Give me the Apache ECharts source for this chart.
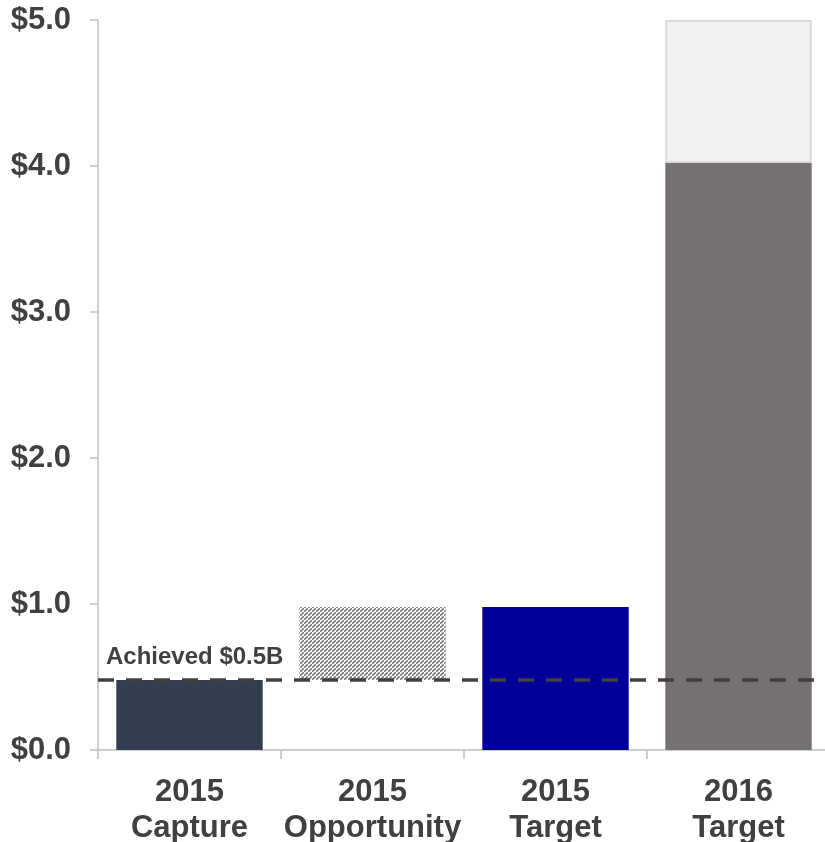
<!DOCTYPE html>
<html>
<head>
<meta charset="utf-8">
<script src="https://cdn.jsdelivr.net/npm/echarts@6/dist/echarts.min.js"></script>
<style>
  html, body { margin: 0; padding: 0; background: #fff; }
  #myChart { width: 825px; height: 842px; }
</style>
</head>
<body>
<div id="myChart"></div>
<script>
// 数据
var categories = ['2015\nCapture', '2015\nOpportunity', '2015\nTarget', '2016\nTarget']
var baseValues = [0.48, 0.48, 0.98, 4.02]   // 底部柱子（机会柱的底部透明）
var topValues = ['-', 0.50, '-', 0.98]      // 叠加部分
var achieved = 0.48
var achievedLabel = 'Achieved $0.5B'
var yTicks = [0, 1, 2, 3, 4, 5]

// 斜线填充
function hatch() {
  var s = 4
  var c = document.createElement('canvas')
  c.width = s
  c.height = s
  var ctx = c.getContext('2d')
  ctx.fillStyle = '#ffffff'
  ctx.fillRect(0, 0, s, s)
  ctx.strokeStyle = '#7a7a7a'
  ctx.lineWidth = 1.6
  ctx.beginPath()
  ctx.moveTo(-1, s + 1); ctx.lineTo(s + 1, -1)
  ctx.moveTo(-1 - s, 1); ctx.lineTo(1, -1 - s)
  ctx.moveTo(s - 1, 2 * s + 1); ctx.lineTo(2 * s + 1, s - 1)
  ctx.stroke()
  return c
}

var baseColors = ['#333f50', 'rgba(0,0,0,0)', '#000099', '#767171']

var myChart = echarts.init(document.getElementById('myChart'))

var option = {
  animation: false,
  grid: { left: 98, top: 20, width: 732, height: 730, containLabel: false, outerBoundsMode: 'none' },
  xAxis: {
    type: 'category',
    data: categories,
    axisLine: { lineStyle: { color: '#bfbfbf', width: 1.5 } },
    axisTick: { show: true, length: 9, lineStyle: { color: '#bfbfbf', width: 1.5 } },
    axisLabel: {
      interval: 0,
      color: '#404040',
      fontFamily: 'Liberation Sans',
      fontWeight: 'bold',
      fontSize: 31,
      lineHeight: 36,
      margin: 24
    }
  },
  yAxis: {
    type: 'value',
    min: 0,
    max: 5,
    interval: 1,
    axisLine: { show: true, lineStyle: { color: '#bfbfbf', width: 1.5 } },
    axisTick: { show: true, length: 8, lineStyle: { color: '#bfbfbf', width: 1.5 } },
    splitLine: { show: false },
    axisLabel: {
      color: '#404040',
      fontFamily: 'Liberation Sans',
      fontWeight: 'bold',
      fontSize: 31,
      margin: 27,
      formatter: function (v) { return yTicks.indexOf(v) >= 0 ? '$' + v.toFixed(1) : '' }
    }
  },
  series: [
    {
      name: 'base',
      type: 'bar',
      stack: 'a',
      barWidth: '80%',
      data: baseValues.map(function (v, i) {
        return { value: v, itemStyle: { color: baseColors[i] } }
      }),
      markLine: {
        silent: true,
        symbol: 'none',
        lineStyle: { color: '#404040', type: [16, 12], width: 3.5 },
        label: {
          show: true,
          position: 'insideStartTop',
          formatter: achievedLabel,
          color: '#404040',
          fontFamily: 'Liberation Sans',
          fontWeight: 'bold',
          fontSize: 24,
          distance: [8, 11]
        },
        data: [{ yAxis: achieved }]
      }
    },
    {
      name: 'top',
      type: 'bar',
      stack: 'a',
      barWidth: '80%',
      data: topValues.map(function (v, i) {
        if (i === 1) return { value: v, itemStyle: { color: { image: hatch(), repeat: 'repeat' } } }
        if (i === 3) return { value: v, itemStyle: { color: '#f2f2f2', borderColor: '#d9d9d9', borderWidth: 2 } }
        return v
      })
    }
  ]
}

myChart.setOption(option)
window.onresize = myChart.resize
</script>
</body>
</html>
